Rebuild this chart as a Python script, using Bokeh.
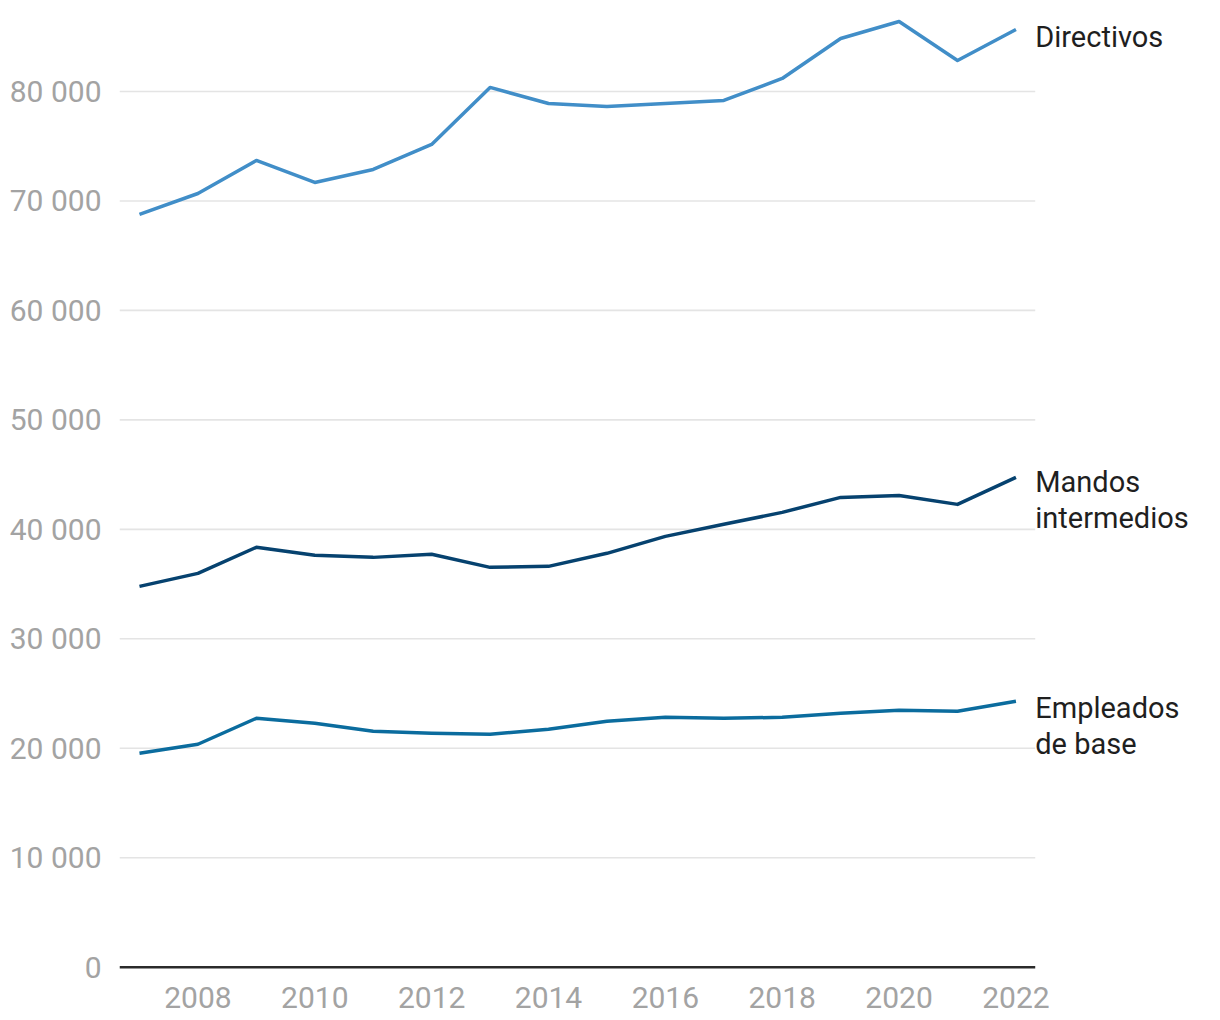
from bokeh.plotting import figure
from bokeh.models import Range1d, FixedTicker, ColumnDataSource
from bokeh.core.properties import value
from bokeh.embed import file_html
from bokeh.resources import INLINE

years = list(range(2007, 2023))
directivos = [68770, 70680, 73700, 71690, 72880, 75160, 80370, 78900, 78630, 78900,
              79180, 81190, 84840, 86390, 82830, 85660]
mandos = [34790, 35980, 38360, 37630, 37440, 37720, 36530, 36620, 37810, 39360,
          40460, 41550, 42920, 43100, 42280, 44750]
empleados = [19540, 20370, 22740, 22280, 21550, 21370, 21280, 21740, 22470, 22830,
             22740, 22830, 23200, 23470, 23380, 24290]

series_names = [["Directivos"], ["Mandos", "intermedios"], ["Empleados", "de base"]]
series_values = [directivos, mandos, empleados]
series_colors = ["#418ec8", "#06426f", "#0b6c9e"]

y_ticks = [0, 10000, 20000, 30000, 40000, 50000, 60000, 70000, 80000]
y_tick_labels = ["0", "10 000", "20 000", "30 000", "40 000", "50 000", "60 000", "70 000", "80 000"]
x_ticks = [2008, 2010, 2012, 2014, 2016, 2018, 2020, 2022]

FONT = "Roboto"
TICK_COLOR = "#a3a3a3"

X0, X1, XGRID_END = 2006.658, 2025.227, 2022.33

p = figure(width=1204, height=1016, output_backend="svg", toolbar_location=None,
           x_range=Range1d(X0, X1), y_range=Range1d(-300, 86850),
           min_border_left=119, min_border_top=16, min_border_right=0, min_border_bottom=46)
p.outline_line_color = None
p.background_fill_color = "white"

# axes
p.yaxis.ticker = FixedTicker(ticks=y_ticks)
p.yaxis.major_label_overrides = {t: l for t, l in zip(y_ticks, y_tick_labels)}
p.xaxis.ticker = FixedTicker(ticks=x_ticks)
for ax in (p.xaxis, p.yaxis):
    ax.major_tick_line_color = None
    ax.minor_tick_line_color = None
    ax.axis_line_color = None
    ax.major_label_text_font = FONT
    ax.major_label_text_font_size = "30px"
    ax.major_label_text_color = TICK_COLOR
p.yaxis.major_label_standoff = 12
p.xaxis.major_label_standoff = 10

p.xgrid.grid_line_color = None
p.ygrid.grid_line_color = None

# grid lines (stop at end of data area) and baseline
grid_y = [t for t in y_ticks if t != 0]
p.segment(x0=[X0] * len(grid_y), x1=[XGRID_END] * len(grid_y), y0=grid_y, y1=grid_y,
          line_color="#e4e4e4", line_width=1.6)
p.segment(x0=[X0], x1=[XGRID_END], y0=[0], y1=[0], line_color="#2b2b2b", line_width=2.4)

for vals, col in zip(series_values, series_colors):
    p.line(years, vals, line_color=col, line_width=3.5, line_join="round")

# end labels
offsets = [7, 23, 25]
lx, ly, lt, lo = [], [], [], []
for names, vals, off in zip(series_names, series_values, offsets):
    n = len(names)
    for i, name in enumerate(names):
        dy = off + (i - (n - 1) / 2) * 36
        lx.append(XGRID_END)
        ly.append(vals[-1])
        lt.append(name)
        lo.append(dy)
src = ColumnDataSource(dict(x=lx, y=ly, text=lt, yo=lo))
p.text(x="x", y="y", text="text", y_offset="yo", source=src,
       text_font=value(FONT), text_font_size="29px", text_color="#1f1f1f",
       text_baseline="middle", text_align="left")

open("out.html", "w").write(file_html(p, INLINE))
